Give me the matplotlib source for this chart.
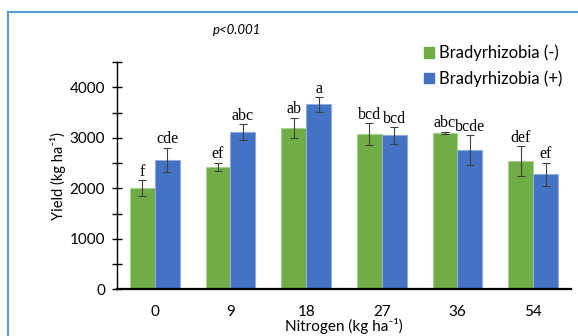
import numpy as np
import matplotlib
matplotlib.use("Agg")
import matplotlib.pyplot as plt
from matplotlib.patches import Patch
from matplotlib.lines import Line2D

nitrogen = ["0", "9", "18", "27", "36", "54"]
yield_minus = [2000, 2430, 3200, 3070, 3100, 2535]
err_minus = [160, 80, 200, 220, 20, 300]
yield_plus = [2560, 3115, 3660, 3045, 2760, 2275]
err_plus = [245, 150, 145, 160, 290, 225]
letters_minus = ["f", "ef", "ab", "bcd", "abc", "def"]
letters_plus = ["cde", "abc", "a", "bcd", "bcde", "ef"]

green = "#70ad47"
blue = "#4472c4"

plt.rcParams["font.family"] = ["Lato", "DejaVu Sans"]

fig = plt.figure(figsize=(5.78, 3.36), dpi=100)
ax = fig.add_axes([117 / 578, 1 - 289.3 / 336, 454 / 578, (289.3 - 62) / 336])

x = np.arange(len(nitrogen))
w = 0.33
ax.bar(x - w / 2, yield_minus, w, color=green, edgecolor="#a9d18e", linewidth=0.8,
       yerr=err_minus, error_kw=dict(ecolor="#404040", elinewidth=0.8, capsize=3, capthick=0.8))
ax.bar(x + w / 2, yield_plus, w, color=blue, edgecolor="#8faadc", linewidth=0.8,
       yerr=err_plus, error_kw=dict(ecolor="#404040", elinewidth=0.8, capsize=3, capthick=0.8))

# significance letters above error bars
for i in range(len(nitrogen)):
    ax.text(x[i] - w / 2, yield_minus[i] + err_minus[i] + 170, letters_minus[i],
            ha="center", va="center", fontsize=11.5, family="Liberation Serif")
    ax.text(x[i] + w / 2, yield_plus[i] + err_plus[i] + 170, letters_plus[i],
            ha="center", va="center", fontsize=11.5, family="Liberation Serif")

ax.set_xlim(-0.5, len(nitrogen) - 0.5)
ax.set_ylim(0, 4500)
ax.set_xticks(x)
ax.set_xticklabels(nitrogen, fontsize=11)
ax.tick_params(axis="x", length=0, pad=11)
yt = np.arange(0, 4501, 500)
ax.set_yticks(yt)
ax.set_yticklabels([str(v) if v % 1000 == 0 and v < 4500 else "" for v in yt], fontsize=11)
ax.tick_params(axis="y", direction="inout", length=7, width=1, pad=5)

for s in ["top", "right"]:
    ax.spines[s].set_visible(False)
ax.spines["left"].set_linewidth(1)
ax.spines["bottom"].set_linewidth(1.6)

fig.text(58 / 578, 1 - 176 / 336, "Yield (kg ha⁻¹)", fontsize=10.5, rotation=90,
         ha="center", va="center")
fig.text(344 / 578, 1 - 326 / 336, "Nitrogen (kg ha⁻¹)", fontsize=11,
         ha="center", va="center")

fig.text(237 / 578, 1 - 30 / 336, "p<0.001", fontsize=9.5, style="italic",
         ha="center", va="center")

handles = [Patch(color=green), Patch(color=blue)]
fig.legend(handles, ["Bradyrhizobia (-)", "Bradyrhizobia (+)"], loc="upper left",
           bbox_to_anchor=(417 / 578, 1 - 38 / 336), frameon=False, fontsize=12,
           handlelength=0.6, handleheight=0.6, handletextpad=0.3, labelspacing=0.55,
           borderaxespad=0)

# outer chart frame
fig.add_artist(Line2D([8 / 578, 8 / 578], [0, 1 - 12 / 336], color="#5b9bd5", lw=1.5,
                      transform=fig.transFigure))
fig.add_artist(Line2D([8 / 578, 1], [1 - 12 / 336, 1 - 12 / 336], color="#5b9bd5", lw=1.5,
                      transform=fig.transFigure))

fig.savefig("out.png", dpi=100)
